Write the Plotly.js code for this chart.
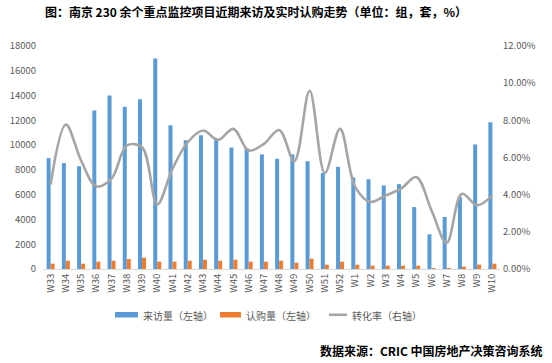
<!DOCTYPE html>
<html>
<head>
<meta charset="utf-8">
<script src="https://cdn.plot.ly/plotly-3.0.1.min.js"></script>
<style>html,body{margin:0;padding:0;background:#fff;}#chart{width:552px;height:363px;}</style>
</head>
<body>
<div id="chart"></div>
<script>
var weeks = ['W33','W34','W35','W36','W37','W38','W39','W40','W41','W42','W43','W44','W45','W46','W47','W48','W49','W50','W51','W52','W1','W2','W3','W4','W5','W6','W7','W8','W9','W10'];
var visits = [8950,8550,8300,12800,14000,13100,13700,17000,11600,10400,10800,10400,9800,9750,9250,8900,9250,8700,7750,8250,7400,7250,6750,6850,5000,2800,4200,5800,10050,11850];
var subs = [430,670,430,590,670,800,910,590,590,670,750,670,750,590,590,670,510,830,350,590,350,270,270,270,270,80,80,190,350,430];
var ratePct = [4.55,7.77,5.84,4.45,4.86,6.64,6.55,3.48,5.39,6.82,7.45,6.95,7.54,6.37,6.73,7.48,5.8,9.59,5.16,7.54,4.41,3.61,3.96,4.32,4.95,3.16,1.41,4.05,3.43,3.96];
var seriesNames = ['来访量（左轴）','认购量（左轴）','转化率（右轴）'];
var titleText = '图：南京 230 余个重点监控项目近期来访及实时认购走势（单位：组，套，%）';
var sourceText = '数据来源：CRIC 中国房地产决策咨询系统';

var rate = ratePct.map(function(v){return v/100;});
var W = 552, H = 363;
var L = 43, R = 52, T = 46, B = 94;
var pw = W - L - R, ph = H - T - B;
function px(x){return (x - L)/pw;}
function py(y){return (H - B - y)/ph;}
var tickFont = {family:'Noto Sans CJK SC, Noto Sans, sans-serif', size:9.5, color:'#595959'};
var legFont = {family:'Noto Sans CJK SC, sans-serif', size:10, color:'#595959'};

var traces = [
  {type:'bar', x:weeks, y:visits, name:seriesNames[0], marker:{color:'#5B9BD5'}, yaxis:'y', hoverinfo:'none'},
  {type:'bar', x:weeks, y:subs, name:seriesNames[1], marker:{color:'#ED7D31'}, yaxis:'y', hoverinfo:'none'},
  {type:'scatter', mode:'lines', x:weeks, y:rate, name:seriesNames[2], line:{color:'#A5A5A5', width:2.6, shape:'spline', smoothing:1}, yaxis:'y2', hoverinfo:'none'}
];

var shapes = [
  {type:'rect', xref:'paper', yref:'paper', x0:px(115), x1:px(138), y0:py(317.5), y1:py(312), fillcolor:'#5B9BD5', line:{width:0}},
  {type:'rect', xref:'paper', yref:'paper', x0:px(220), x1:px(241), y0:py(317.5), y1:py(312), fillcolor:'#ED7D31', line:{width:0}},
  {type:'line', xref:'paper', yref:'paper', x0:px(329), x1:px(347), y0:py(314.8), y1:py(314.8), line:{color:'#A5A5A5', width:2.6}}
];
var annotations = [
  {xref:'paper', yref:'paper', x:px(141), y:py(315), xanchor:'left', yanchor:'middle', text:seriesNames[0], showarrow:false, font:legFont},
  {xref:'paper', yref:'paper', x:px(244), y:py(315), xanchor:'left', yanchor:'middle', text:seriesNames[1], showarrow:false, font:legFont},
  {xref:'paper', yref:'paper', x:px(350), y:py(315), xanchor:'left', yanchor:'middle', text:seriesNames[2], showarrow:false, font:legFont},
  {xref:'paper', yref:'paper', x:px(545), y:py(350), xanchor:'right', yanchor:'middle', text:'<b>'+sourceText+'</b>', showarrow:false, font:{family:'Noto Sans CJK SC, sans-serif', size:12, color:'#000'}}
];

var layout = {
  width:W, height:H,
  margin:{l:L, r:R, t:T, b:B, pad:0},
  paper_bgcolor:'#fff', plot_bgcolor:'#fff',
  showlegend:false,
  barmode:'group', bargap:0.475, bargroupgap:0,
  title:{text:'<b>'+titleText+'</b>', x:256/W, xref:'container', xanchor:'center', y:1-13/H, yref:'container', yanchor:'middle', font:{family:'Noto Sans CJK SC, sans-serif', size:12, color:'#000'}},
  xaxis:{type:'category', tickangle:-90, tickfont:tickFont, showline:true, linecolor:'#D9D9D9', linewidth:1, showgrid:false, ticks:'', zeroline:false, fixedrange:true},
  yaxis:{range:[0,18000], dtick:2000, tickformat:'d', tickfont:tickFont, showgrid:false, zeroline:false, showline:false, ticks:'', ticklabelstandoff:6, fixedrange:true},
  yaxis2:{range:[0,0.12], dtick:0.02, tickformat:'.2%', overlaying:'y', side:'right', tickfont:tickFont, showgrid:false, zeroline:false, showline:false, ticks:'', ticklabelstandoff:2, fixedrange:true},
  shapes:shapes, annotations:annotations
};
Plotly.newPlot('chart', traces, layout, {displayModeBar:false, staticPlot:true});
</script>
</body>
</html>
